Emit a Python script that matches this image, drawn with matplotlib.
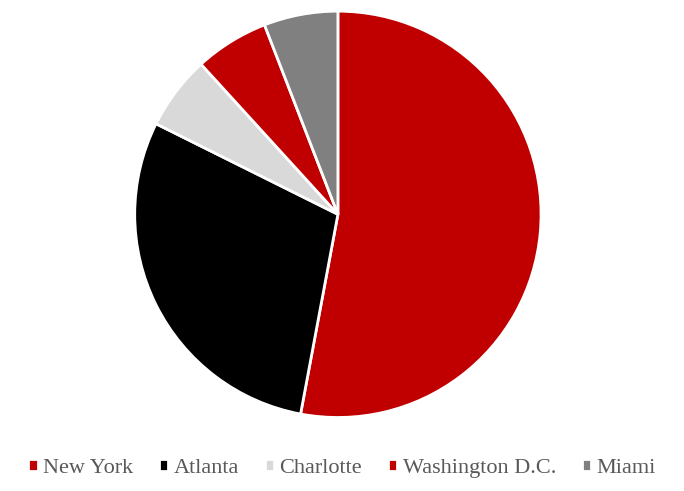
import matplotlib

matplotlib.use("Agg")
import matplotlib.pyplot as plt

# city share (counts)
cities = ["New York", "Atlanta", "Charlotte", "Washington D.C.", "Miami"]
counts = [9, 5, 1, 1, 1]
colors = ["#c00000", "#000000", "#d9d9d9", "#c00000", "#808080"]

plt.rcParams["font.family"] = ["Liberation Serif", "DejaVu Serif"]

fig = plt.figure(figsize=(6.84, 4.91), dpi=100)
ax = fig.add_axes([0.194, 0.145, 0.6, 0.837])
wedges, _ = ax.pie(counts, colors=colors, startangle=90, counterclock=False,
                   wedgeprops=dict(edgecolor="white", linewidth=2))
ax.set_xlim(-1.01, 1.01)
ax.set_ylim(-1.01, 1.01)
ax.set_aspect("equal")

fig.legend(wedges, cities, loc="center", bbox_to_anchor=(0.5, 0.046),
           ncol=5, frameon=False, fontsize=16, handlelength=0.42,
           handleheight=0.42, handletextpad=0.25, columnspacing=1.15,
           labelcolor="#595959")

fig.savefig("out.png", dpi=100)
